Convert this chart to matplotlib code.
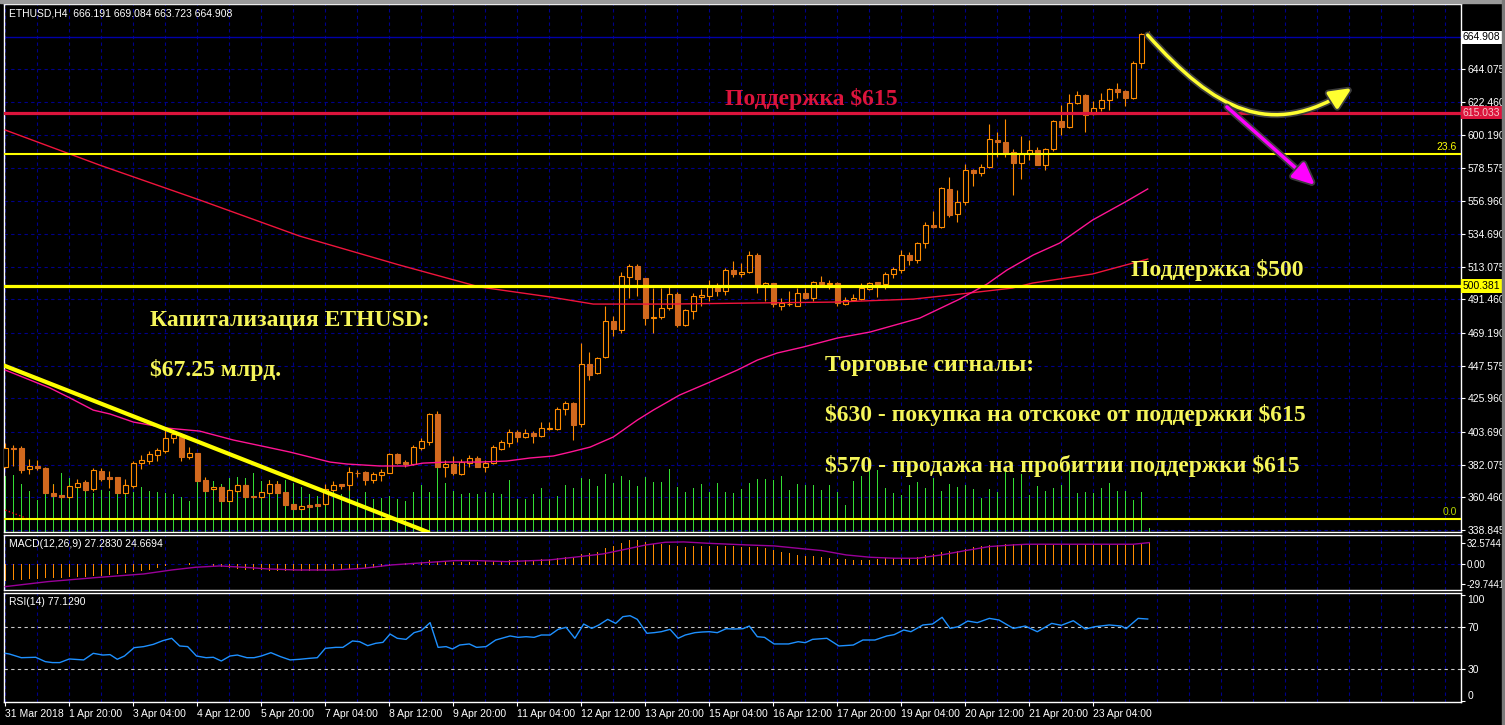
import numpy as np
import matplotlib.pyplot as plt
from matplotlib.patches import FancyArrowPatch, Rectangle
from matplotlib.path import Path
import matplotlib.patheffects as pe

# ETHUSD H4 bars (bar 0 = 31 Mar 2018)
opens = [380.3, 392.9, 392.9, 378.9, 381.2, 379.8, 363.1, 361.9, 360.4, 367.5,
         370.6, 365.7, 377.9, 373.6, 373.6, 363.5, 367.9, 382.9, 384.7, 388.7,
         391.3, 399.5, 400.6, 387.3, 389.5, 371.9, 365.7, 367.0, 358.2, 364.8,
         368.4, 361.3, 360.4, 363.5, 369.0, 363.9, 356.0, 352.9, 355.6, 356.0,
         356.2, 365.3, 369.2, 368.6, 376.7, 377.2, 371.9, 375.2, 376.7, 389.1,
         384.0, 382.5, 392.8, 397.2, 415.6, 380.7, 382.5, 375.8, 383.4, 386.2,
         380.7, 382.9, 392.6, 396.6, 403.6, 400.6, 403.2, 401.2, 405.8, 405.6,
         418.6, 422.6, 408.7, 448.7, 442.5, 453.1, 477.2, 471.2, 506.5, 513.6,
         505.4, 479.4, 480.0, 485.6, 495.0, 474.5, 484.0, 493.3, 493.7, 499.9,
         497.3, 510.9, 508.1, 509.8, 520.9, 499.5, 502.1, 487.3, 488.4, 487.3,
         495.9, 492.6, 502.8, 502.0, 502.1, 488.4, 491.1, 491.7, 498.7, 502.7,
         501.4, 508.0, 510.9, 520.8, 517.5, 528.5, 540.7, 539.6, 564.5, 547.7,
         556.1, 577.1, 574.9, 578.9, 597.0, 595.4, 589.2, 581.5, 587.5, 590.1,
         580.4, 590.8, 609.5, 605.8, 621.2, 626.8, 613.9, 618.4, 623.4, 630.7,
         629.4, 625.0, 647.7, 666.191]
highs = [396.6, 395.1, 394.4, 385.8, 385.1, 380.3, 369.2, 362.0, 368.5, 372.6,
         371.9, 379.6, 379.6, 377.9, 374.1, 372.6, 384.5, 388.4, 391.1, 393.3,
         405.0, 405.0, 402.8, 393.5, 390.0, 374.1, 367.5, 367.9, 366.0, 369.5,
         369.0, 361.5, 364.2, 371.9, 371.2, 364.2, 356.2, 355.2, 355.8, 356.3,
         369.2, 371.2, 369.5, 380.7, 378.5, 377.8, 377.4, 379.4, 389.5, 390.0,
         385.1, 395.0, 399.5, 416.0, 417.8, 385.1, 387.8, 385.6, 388.4, 387.8,
         385.1, 395.0, 398.4, 405.4, 405.0, 405.4, 404.3, 410.5, 410.5, 420.4,
         424.2, 423.7, 462.4, 456.9, 453.1, 487.1, 480.5, 509.4, 514.9, 514.9,
         505.9, 498.8, 498.8, 499.9, 496.6, 484.9, 495.5, 498.1, 504.3, 502.6,
         512.0, 516.9, 515.4, 523.5, 522.4, 503.2, 502.6, 492.2, 497.0, 498.8,
         498.8, 503.7, 507.0, 504.3, 503.2, 492.8, 494.8, 502.6, 503.2, 503.2,
         509.8, 513.1, 524.1, 523.0, 529.6, 542.4, 549.9, 566.1, 572.7, 563.9,
         580.8, 577.8, 580.8, 607.5, 602.0, 610.9, 591.0, 599.6, 597.0, 592.5,
         591.4, 610.2, 620.1, 627.2, 629.4, 627.2, 622.8, 627.9, 631.6, 634.5,
         630.1, 649.3, 667.6, 669.084]
lows = [379.6, 381.2, 376.7, 375.9, 378.5, 363.1, 361.3, 360.0, 359.8, 367.0,
        364.8, 364.6, 371.4, 366.8, 363.1, 363.1, 366.4, 378.9, 382.5, 384.7,
        390.0, 396.6, 384.7, 386.0, 371.0, 364.6, 365.3, 358.2, 357.7, 364.0,
        360.5, 360.0, 359.8, 363.1, 363.1, 355.3, 352.7, 352.5, 354.0, 354.5,
        355.5, 364.8, 365.9, 365.3, 373.6, 368.6, 370.1, 371.2, 376.3, 382.7,
        380.3, 381.8, 391.7, 395.0, 380.3, 374.1, 375.0, 375.2, 380.7, 380.3,
        377.4, 382.5, 391.7, 393.9, 397.2, 399.9, 396.6, 400.6, 405.0, 405.0,
        414.9, 398.4, 406.8, 438.1, 441.9, 452.9, 467.2, 469.0, 492.2, 493.7,
        474.5, 469.0, 478.3, 484.5, 473.0, 473.9, 478.5, 487.1, 490.6, 493.7,
        494.4, 506.5, 506.5, 508.7, 495.9, 490.6, 486.7, 484.5, 487.3, 487.1,
        491.5, 490.6, 500.3, 498.1, 487.3, 487.5, 490.4, 491.1, 497.6, 493.2,
        498.7, 505.8, 508.7, 514.2, 515.3, 525.7, 538.9, 538.9, 546.2, 542.9,
        553.9, 566.7, 573.3, 578.2, 585.9, 585.9, 560.5, 571.1, 583.7, 580.4,
        577.1, 589.7, 600.3, 605.1, 620.6, 602.0, 613.5, 616.2, 616.8, 625.0,
        619.7, 624.1, 644.4, 663.723]
closes = [392.9, 392.7, 378.5, 381.2, 379.8, 363.5, 361.5, 360.4, 367.9, 369.7,
          365.3, 378.5, 372.8, 372.9, 363.5, 368.4, 382.9, 385.1, 389.1, 391.8,
          399.5, 402.3, 387.3, 389.5, 371.4, 364.8, 367.0, 358.2, 365.3, 368.4,
          360.9, 360.4, 363.7, 369.0, 363.5, 355.6, 352.9, 354.7, 354.2, 354.9,
          365.9, 368.6, 367.9, 377.2, 376.5, 371.9, 375.8, 377.2, 389.1, 382.9,
          382.7, 393.5, 397.7, 415.6, 380.7, 382.5, 376.3, 384.0, 386.2, 380.7,
          382.9, 393.5, 397.0, 403.4, 400.6, 402.8, 401.0, 406.1, 405.9, 418.9,
          422.6, 408.3, 448.7, 441.4, 452.5, 477.2, 471.7, 507.0, 513.6, 505.0,
          479.4, 479.8, 485.6, 495.0, 474.5, 484.5, 493.7, 494.4, 499.9, 497.3,
          510.9, 508.3, 509.8, 520.9, 499.5, 502.1, 488.4, 488.9, 488.6, 495.5,
          492.2, 502.8, 501.4, 502.2, 488.9, 491.1, 492.2, 499.2, 502.5, 501.4,
          508.0, 511.6, 520.8, 517.5, 528.5, 540.7, 539.4, 565.0, 547.3, 556.1,
          577.1, 574.9, 578.9, 597.4, 595.4, 588.1, 581.5, 587.5, 590.1, 580.4,
          590.8, 609.5, 605.8, 621.2, 626.8, 613.5, 618.4, 623.4, 630.5, 629.0,
          625.0, 647.7, 666.9, 664.908]
volumes = [56, 57, 48, 41, 32, 39, 48, 59, 54, 52, 42, 39, 42, 41, 45, 45, 40, 45,
           41, 40, 39, 38, 35, 31, 53, 50, 51, 48, 54, 55, 54, 59, 51, 52, 51, 52,
           49, 45, 38, 36, 34, 44, 38, 47, 33, 40, 33, 34, 36, 33, 31, 40, 47, 40,
           65, 49, 41, 38, 39, 38, 40, 39, 38, 52, 33, 33, 38, 44, 33, 36, 47, 44,
           54, 53, 46, 58, 49, 56, 52, 46, 55, 50, 50, 63, 45, 40, 44, 48, 40, 49,
           40, 39, 43, 49, 53, 53, 52, 56, 42, 48, 47, 47, 42, 47, 40, 27, 51, 56,
           64, 62, 44, 39, 37, 47, 50, 44, 54, 41, 48, 45, 47, 43, 34, 43, 40, 62,
           54, 58, 37, 46, 41, 44, 47, 62, 39, 40, 39, 44, 49, 41, 41, 32, 40, 4]

# moving averages (bar, price)
ma_fast_bars = [0, 3.1, 5.6, 8.1, 11.0, 13.1, 16.0, 20.2, 24.3, 28.5, 32.7, 35.6,
                40.6, 42.7, 46.8, 50.2, 52.2, 55.2, 59.3, 62.7, 65.6, 68.5, 70.6,
                73.1, 76.0, 79.0, 81.0, 84.3, 88.1, 91.5, 94.0, 96.5, 99.7, 104.0,
                108.1, 114.3, 119.3, 122.7, 125.2, 128.5, 131.8, 135.9, 140.2, 142.8]
ma_fast_vals = [444.7, 438.1, 432.8, 426.2, 418.2, 415.6, 410.3, 406.3, 404.3,
                398.4, 393.7, 390.4, 383.8, 382.5, 381.2, 381.2, 383.1, 383.8,
                383.8, 384.5, 386.5, 387.8, 390.4, 393.7, 400.4, 411.6, 418.2,
                428.2, 436.8, 444.7, 451.3, 456.0, 459.9, 465.9, 469.9, 479.1,
                491.7, 501.6, 510.9, 520.9, 528.8, 544.0, 556.6, 564.6]
ma_slow_bars = [0, 11.8, 24.3, 36.8, 49.3, 59.3, 68.1, 73.5, 83.1, 93.5, 103.5,
                113.5, 119.3, 125.9, 128.4, 135.9, 142.8]
ma_slow_vals = [603.6, 580.4, 557.3, 533.4, 514.2, 499.7, 493.1, 488.4, 488.4,
                489.1, 489.7, 491.7, 495.0, 499.0, 502.3, 508.3, 518.2]

# MACD(12,26,9)
macd_hist = [-23.6, -22.6, -21.6, -20.6, -20.1, -19.6, -19.1, -18.6, -18.1, -17.6,
             -17.1, -16.6, -15.6, -14.1, -13.1, -12.1, -10.6, -8.6, -6.5, -4.5,
             -1.5, 0.5, 1.0, 1.5, 1.0, 0.0, -1.5, -3.0, -4.5, -5.5,
             -6.5, -7.0, -7.5, -8.0, -8.5, -8.5, -8.5, -8.5, -8.5, -8.5,
             -8.0, -7.5, -7.0, -6.0, -5.0, -4.5, -3.5, -2.5, -1.5, 0.5,
             1.5, 2.5, 4.0, 7.0, 5.0, 5.0, 4.0, 4.0, 4.0, 4.0,
             4.5, 5.0, 5.5, 6.0, 6.5, 6.5, 7.0, 7.5, 8.0, 9.0,
             10.5, 11.0, 15.0, 17.5, 19.0, 24.0, 27.0, 32.0, 36.0, 36.0,
             34.0, 31.0, 30.0, 29.0, 27.0, 26.0, 27.0, 27.0, 28.0, 28.0,
             27.5, 27.0, 26.5, 26.0, 25.6, 24.1, 21.6, 18.1, 16.6, 14.1,
             13.1, 12.6, 11.6, 10.1, 8.0, 7.5, 6.5, 6.5, 6.5, 7.5,
             9.1, 9.1, 9.1, 10.1, 11.6, 14.1, 15.6, 19.1, 20.6, 20.6,
             23.1, 25.6, 27.7, 29.2, 29.2, 30.2, 30.2, 29.2, 29.2, 29.2,
             29.2, 29.2, 29.2, 29.2, 29.2, 29.2, 29.2, 29.2, 29.2, 29.2,
             29.2, 29.2, 31.7, 33.7]
signal_bars = [0, 5.3, 11.3, 17.3, 20.8, 23.8, 26.8, 30.5, 32.8, 36.5, 41.2, 44.8,
               48.3, 51.3, 56.2, 59, 62.7, 68, 71.1, 74.7, 77.1, 80.1, 82.5, 84.8,
               87.8, 92.6, 96.1, 99.1, 102.1, 105.1, 108.1, 111.1, 114, 117, 120,
               123, 126, 127.7, 132, 135, 141, 143]
signal_vals = [-33.7, -26.2, -20.1, -14.6, -8.6, -4.5, -2.5, -5.0, -7.0, -8.6,
               -8.6, -6.0, -1.0, 1.5, 5.5, 5.5, 4.0, 6.5, 10.6, 15.6, 21.6, 29.2,
               33.2, 33.7, 31.7, 29.2, 27.7, 24.1, 20.6, 14.1, 10.6, 9.1, 9.1,
               14.1, 20.6, 26.7, 29.2, 30.2, 30.2, 30.2, 30.2, 32.7]

# RSI(14)
rsi_bars = [0, 0.5, 2.0, 3.8, 5.0, 5.9, 6.8, 8.0, 9.8, 11.0, 12.2, 13.1, 14.0, 14.9,
            16.1, 17.3, 18.5, 19.7, 20.8, 21.8, 22.8, 23.9, 25.1, 26.0, 27.0, 28.1,
            29.0, 30.2, 31.1, 32.0, 33.2, 34.4, 35.6, 36.8, 38.0, 39.0, 40.0, 41.3,
            42.2, 43.4, 44.3, 45.3, 46.3, 47.2, 48.1, 49.0, 50.1, 51.1, 52.0, 53.1,
            54.1, 55.1, 55.9, 56.8, 58.0, 58.9, 60.1, 61.3, 62.2, 63.1, 64.1, 65.1,
            66.1, 67.0, 68.1, 69.1, 70.1, 71.2, 72.3, 73.3, 74.2, 75.3, 76.3, 77.2,
            78.1, 79.0, 80.2, 81.1, 82.0, 83.1, 84.1, 85.0, 86.2, 87.1, 88.0, 89.0,
            90.1, 91.0, 92.2, 93.0, 94.0, 94.9, 96.1, 97.9, 99.1, 100.0, 100.9,
            102.7, 104.2, 106.0, 107.2, 108.7, 110.2, 111.1, 112.3, 113.2, 114.7,
            115.9, 117.1, 118.1, 119.1, 120.3, 121.5, 123.0, 124.2, 126.0, 127.5,
            129.0, 130.8, 132.0, 133.5, 135.0, 136.2, 138.0, 139.5, 140.1, 141.6,
            142.8]
rsi_vals = [45.0, 44.4, 40.9, 41.3, 37.2, 36.3, 36.3, 39.7, 38.8, 45.0, 43.4, 43.8,
            39.4, 42.5, 50.3, 51.3, 53.4, 56.9, 59.1, 51.9, 51.3, 42.5, 40.9, 41.3,
            37.8, 42.5, 43.4, 40.9, 40.9, 42.5, 45.6, 41.9, 38.8, 39.4, 40.3, 40.9,
            49.7, 50.6, 50.6, 56.6, 55.9, 52.2, 54.4, 55.3, 63.1, 59.1, 58.1, 64.4,
            66.3, 73.8, 50.6, 51.3, 49.1, 52.8, 53.8, 50.6, 51.3, 57.5, 59.4, 61.3,
            60.0, 60.6, 60.0, 62.2, 62.2, 67.5, 69.4, 59.1, 72.5, 68.4, 71.6, 76.9,
            73.1, 79.4, 80.3, 76.9, 63.8, 64.4, 65.3, 67.5, 59.1, 62.2, 64.4, 65.0,
            65.3, 64.4, 68.1, 67.8, 68.1, 70.6, 60.6, 60.0, 53.8, 53.8, 55.9, 55.0,
            58.1, 59.1, 51.9, 52.8, 57.5, 57.5, 61.3, 62.5, 66.9, 65.3, 71.6, 72.5,
            78.8, 68.4, 70.0, 75.3, 73.8, 77.8, 76.3, 68.4, 70.6, 65.3, 73.1, 71.3,
            75.6, 67.8, 70.0, 71.6, 70.6, 68.1, 77.8, 77.2]

# axis ticks / levels
price_ticks = [338.845, 360.460, 382.075, 403.690, 425.960, 447.575, 469.190,
               491.460, 513.075, 534.690, 556.960, 578.575, 600.190, 622.460, 644.075]
date_labels = ["31 Mar 2018", "1 Apr 20:00", "3 Apr 04:00", "4 Apr 12:00",
               "5 Apr 20:00", "7 Apr 04:00", "8 Apr 12:00", "9 Apr 20:00",
               "11 Apr 04:00", "12 Apr 12:00", "13 Apr 20:00", "15 Apr 04:00",
               "16 Apr 12:00", "17 Apr 20:00", "19 Apr 04:00", "20 Apr 12:00",
               "21 Apr 20:00", "23 Apr 04:00"]
last_price = 664.908
support_615 = 615.033
support_500 = 500.381
fib_236 = 587.8
fib_0 = 346.1
trend_bars = [0, 52.8]
trend_vals = [447.4, 337.5]
fib_trend_bars = [0, 2.6]
fib_trend_vals = [352.0, 346.7]
up_path = [(142.8, 666.5), (151.2, 616.9), (158.1, 597.0), (168.3, 631.4)]
down_arrow = [(152.7, 618.9), (163.7, 567.2)]

# ---------------------------------------------------------------
W, H = 1505, 725
fig = plt.figure(figsize=(W / 100, H / 100), dpi=100, facecolor='black')


def rect(x0, y0, x1, y1):
    return [x0 / W, 1 - y1 / H, (x1 - x0) / W, (y1 - y0) / H]


ax = fig.add_axes(rect(4, 4, 1461, 532))
axm = fig.add_axes(rect(4, 535.3, 1461, 590), sharex=ax)
axr = fig.add_axes(rect(4, 592.7, 1461, 701.7), sharex=ax)

small = 'Liberation Sans'
fs = 7.5
px1 = 0.72  # one pixel line width
big = dict(family='Liberation Serif', weight='bold', fontsize=17, parse_math=False)
grid_c = '#00008B'
dash = (0, (3, 3))

n = len(closes)
x = np.arange(n)
o = np.array(opens)
c = np.array(closes)

for a in (ax, axm, axr):
    a.set_facecolor('black')
    for s in a.spines.values():
        s.set_color('white')
        s.set_linewidth(1)
    a.yaxis.tick_right()
    a.tick_params(axis='y', colors='white', length=3, pad=1.5, labelsize=fs)
    a.tick_params(axis='x', colors='white', length=0, labelbottom=False)
    for gx in np.arange(0, 182, 4):
        a.axvline(gx, color=grid_c, ls=dash, lw=0.8, zorder=0)

ax.set_xlim(-0.16, 181.96)
ax.set_xticks(np.arange(0, 8 * len(date_labels), 8))

# main panel
ax.set_ylim(337.5, 687.05)
ax.set_yticks(price_ticks)
ax.set_yticklabels(['%.3f' % p for p in price_ticks])
for p in price_ticks:
    ax.axhline(p, color=grid_c, ls=dash, lw=0.8, zorder=0)
ax.axhline(last_price, color='#0000A8', lw=1, zorder=1)

ax.vlines(x, 0, np.array(volumes) / 528.0, transform=ax.get_xaxis_transform(),
          color='#33DD33', lw=px1, zorder=1, antialiased=False)

bull = c >= o
ax.vlines(x, lows, highs, color='#FF8C00', lw=0.8, zorder=3)
ax.bar(x[bull], np.maximum(c - o, 0.3)[bull], bottom=o[bull], width=0.6,
       facecolor='black', edgecolor='#FF8C00', lw=0.8, zorder=4)
ax.bar(x[~bull], np.maximum(o - c, 0.3)[~bull], bottom=c[~bull], width=0.6,
       facecolor='#D2691E', edgecolor='#D2691E', lw=0.8, zorder=4)

ax.plot(ma_slow_bars, ma_slow_vals, color='#F0143C', lw=1, zorder=5)
ax.plot(ma_fast_bars, ma_fast_vals, color='#FF1493', lw=1, zorder=5)

ax.axhline(support_615, color='#DC143C', lw=2.3, zorder=6)
ax.axhline(support_500, color='#FFFF00', lw=2.3, zorder=6)
ax.axhline(fib_236, color='#FFFF00', lw=1.5, zorder=6)
ax.axhline(fib_0, color='#FFFF00', lw=1.5, zorder=6)
ax.plot(fib_trend_bars, fib_trend_vals, color='red', ls=':', lw=1, zorder=6)
ax.plot(trend_bars, trend_vals, color='#FFFF00', lw=3, zorder=6)

ytr = ax.get_yaxis_transform()
ax.text(0.997, fib_236 + 1, '23.6', transform=ytr, ha='right', va='bottom',
        color='#FFFF00', fontsize=fs, family=small)
ax.text(0.997, fib_0 + 1, '0.0', transform=ytr, ha='right', va='bottom',
        color='#B8D800', fontsize=fs, family=small)

for val, fc, tc in [(last_price, 'white', 'black'),
                    (support_615, '#DC143C', '#F4C8C8'),
                    (support_500, '#FFFF00', 'black')]:
    ax.text(1.0012, val, '%.3f' % val, transform=ytr, ha='left', va='center',
            fontsize=fs, family=small, color=tc, zorder=10, clip_on=False,
            bbox=dict(boxstyle='square,pad=0.15', fc=fc, ec='none'))

# arrows
glow = [pe.Stroke(linewidth=5, foreground='#3c3c3c'), pe.Normal()]
up = Path(up_path, [Path.MOVETO, Path.CURVE4, Path.CURVE4, Path.CURVE4])
arr1 = FancyArrowPatch(path=up, arrowstyle='-|>,head_length=0.55,head_width=0.25',
                       mutation_scale=24, color='#FFFF30', lw=2.5, zorder=8,
                       path_effects=glow)
ax.add_patch(arr1)
arr2 = FancyArrowPatch(down_arrow[0], down_arrow[1],
                       arrowstyle='-|>,head_length=0.55,head_width=0.25',
                       mutation_scale=24, color='#FF00FF', lw=2.5, zorder=8,
                       shrinkA=0, shrinkB=0, path_effects=glow)
ax.add_patch(arr2)

# annotations
ax.text(89.96, 624.1, 'Поддержка $615', color='#DC143C', ha='left', va='center', zorder=9, **big)
ax.text(140.7, 510.9, 'Поддержка $500', color='#F5F55A', ha='left', va='center', zorder=9, **big)
ax.text(18.1, 477.8, 'Капитализация ETHUSD:', color='#F5F55A', ha='left', va='center', zorder=9, **big)
ax.text(18.1, 444.7, '$67.25 млрд.', color='#F5F55A', ha='left', va='center', zorder=9, **big)
ax.text(102.5, 448.0, 'Торговые сигналы:', color='#F5F55A', ha='left', va='center', zorder=9, **big)
ax.text(102.5, 414.9, '$630 - покупка на отскоке от поддержки $615', color='#F5F55A',
        ha='left', va='center', zorder=9, **big)
ax.text(102.5, 381.2, '$570 - продажа на пробитии поддержки $615', color='#F5F55A',
        ha='left', va='center', zorder=9, **big)

# MACD panel
axm.set_ylim(-38.8, 43.7)
axm.axhline(0, color=grid_c, ls=dash, lw=0.8, zorder=0)
axm.vlines(x, 0, macd_hist, color='#FF8C00', lw=px1, zorder=2, antialiased=False)
axm.plot(signal_bars, signal_vals, color='#990099', lw=1, zorder=3)
axm.set_yticks([32.5744, 0, -29.7441])
axm.set_yticklabels(['32.5744', '0.00', '-29.7441'])
axm.tick_params(axis='y', labelsize=7, pad=1)

# RSI panel
axr.set_ylim(-0.4, 101.9)
axr.axhline(70, color='#C8C8C8', ls=dash, lw=0.8)
axr.axhline(30, color='#C8C8C8', ls=dash, lw=0.8)
axr.plot(rsi_bars, rsi_vals, color='#1E90FF', lw=1, zorder=3)
axr.set_yticks([100, 70, 30, 0])
axr.set_yticklabels(['100', '70', '30', '0'])
rl = axr.get_yticklabels()
rl[0].set_va('top')
rl[3].set_va('bottom')
axr.tick_params(axis='x', length=3, labelbottom=True, labelsize=fs, pad=2)
axr.set_xticklabels(date_labels)
for lbl in axr.get_xticklabels():
    lbl.set_ha('left')

for a in (ax, axm, axr):
    for lbl in a.get_yticklabels() + a.get_xticklabels():
        lbl.set_family(small)

# panel captions
fig.text(9 / W, 1 - 13 / H, 'ETHUSD,H4  666.191 669.084 663.723 664.908',
         color='white', fontsize=fs, family=small, va='center')
fig.text(9 / W, 1 - 544 / H, 'MACD(12,26,9) 27.2830 24.6694',
         color='white', fontsize=fs, family=small, va='center')
fig.text(9 / W, 1 - 602 / H, 'RSI(14) 77.1290',
         color='white', fontsize=fs, family=small, va='center')

# window frame bits
fig.patches.append(Rectangle((0, 1 - 3 / H), 1, 3 / H, transform=fig.transFigure,
                             color='#9a9a9a', zorder=0))
fig.patches.append(Rectangle((1502 / W, 0), 3 / W, 1, transform=fig.transFigure,
                             color='#7a7a7a', zorder=0))

fig.savefig('out.png', dpi=100, facecolor='black')
